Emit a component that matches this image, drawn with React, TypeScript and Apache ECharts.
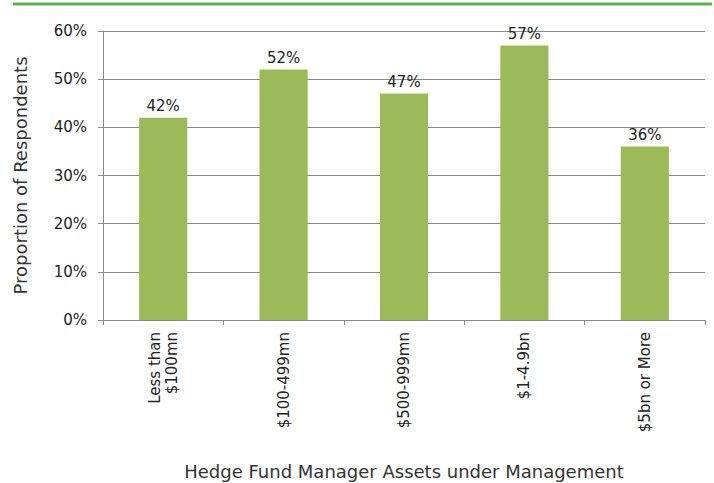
import React, { useEffect, useRef } from "react";
import * as echarts from "echarts";

const categories = ["Less than\n$100mn", "$100-499mn", "$500-999mn", "$1-4.9bn", "$5bn or More"];
const values = [42, 52, 47, 57, 36];
const yTicks = [0, 10, 20, 30, 40, 50, 60];

const FONT = "'DejaVu Sans', sans-serif";

export default function App() {
  const ref = useRef<HTMLDivElement>(null);
  useEffect(() => {
    const chart = echarts.init(ref.current!, null, { renderer: "svg" });
    chart.setOption({
      animation: false,
      textStyle: { fontFamily: FONT },
      graphic: [
        {
          type: "line",
          shape: { x1: 13, y1: 4, x2: 712, y2: 4 },
          style: { stroke: "#5FB346", lineWidth: 3 },
        },
      ],
      grid: { left: 103, right: 9, top: 31, bottom: 163, outerBoundsMode: "none", containLabel: false },
      xAxis: {
        type: "category",
        data: categories,
        axisLine: { lineStyle: { color: "#8a8a8a", width: 1 } },
        axisTick: { show: true, length: 5, lineStyle: { color: "#8a8a8a" } },
        axisLabel: {
          rotate: 90,
          color: "#222",
          fontSize: 15,
          margin: 12,
          fontFamily: FONT,
          lineHeight: 17,
        },
        name: "Hedge Fund Manager Assets under Management",
        nameLocation: "middle",
        nameGap: 142,
        nameTextStyle: { color: "#333", fontSize: 18, fontFamily: FONT },
      },
      yAxis: {
        type: "value",
        min: yTicks[0],
        max: yTicks[yTicks.length - 1],
        interval: 10,
        axisLine: { show: true, lineStyle: { color: "#8a8a8a" } },
        axisTick: { show: true, length: 5, lineStyle: { color: "#8a8a8a" } },
        splitLine: { lineStyle: { color: "#8a8a8a", width: 1 } },
        axisLabel: {
          formatter: (v: number) => v + "%",
          color: "#222",
          fontSize: 15,
          margin: 16,
          fontFamily: FONT,
        },
        name: "Proportion of Respondents",
        nameLocation: "middle",
        nameGap: 74,
        nameTextStyle: { color: "#333", fontSize: 18, fontFamily: FONT },
      },
      series: [
        {
          type: "bar",
          data: values,
          barWidth: "40%",
          itemStyle: { color: "#9BBB59" },
          label: {
            show: true,
            position: "top",
            formatter: (p: any) => p.value + "%",
            color: "#222",
            fontSize: 15,
            distance: 4,
            fontFamily: FONT,
          },
        },
      ],
    });
    return () => chart.dispose();
  }, []);
  return <div ref={ref} style={{ width: 714, height: 483, position: "absolute", left: 0, top: 0, background: "#fff" }} />;
}
